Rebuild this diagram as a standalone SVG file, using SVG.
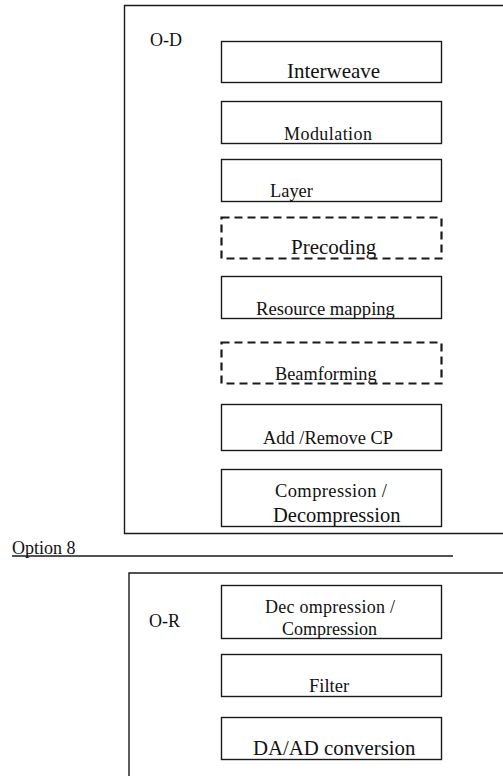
<svg xmlns="http://www.w3.org/2000/svg" width="503" height="776" viewBox="0 0 503 776" font-family="'Liberation Serif', 'Times New Roman', 'DejaVu Serif', serif">
  <style>
    .frame { fill: none; stroke: #1a1a1a; stroke-width: 1.4; }
    .box { fill: #ffffff; stroke: #1a1a1a; stroke-width: 1.4; }
    .dash { fill: #ffffff; stroke: #1a1a1a; stroke-width: 2.2; stroke-dasharray: 8 5; }
    text { font-family: 'Liberation Serif', 'Times New Roman', 'DejaVu Serif', serif; fill: #111111; }
  </style>
  <rect width="503" height="776" fill="#ffffff"/>

  <!-- O-D container (open on the right) -->
  <g id="od-container">
    <path class="frame" d="M503 5.5 H124.5 V533.5 H503"/>
    <text x="150" y="46" font-size="18" font-family="Liberation Serif, serif">O-D</text>
  </g>

  <g id="od-interweave">
    <rect class="box" x="221.5" y="41.5" width="220" height="41"/>
    <text x="287" y="78" font-size="21" textLength="93" font-family="Liberation Serif, serif">Interweave</text>
  </g>
  <g id="od-modulation">
    <rect class="box" x="221.5" y="101.5" width="220" height="42"/>
    <text x="284" y="140" font-size="18" textLength="88" font-family="Liberation Serif, serif">Modulation</text>
  </g>
  <g id="od-layer">
    <rect class="box" x="221.5" y="159.5" width="220" height="42"/>
    <text x="270" y="197" font-size="18.4" font-family="Liberation Serif, serif">Layer</text>
  </g>
  <g id="od-precoding">
    <rect class="dash" x="221.5" y="217.5" width="220" height="41"/>
    <text x="291" y="254" font-size="21" font-family="Liberation Serif, serif">Precoding</text>
  </g>
  <g id="od-resource-mapping">
    <rect class="box" x="221.5" y="276.5" width="220" height="42"/>
    <text x="256" y="315" font-size="18.6" font-family="Liberation Serif, serif">Resource mapping</text>
  </g>
  <g id="od-beamforming">
    <rect class="dash" x="221.5" y="342.5" width="220" height="41"/>
    <text x="275" y="380" font-size="18.3" font-family="Liberation Serif, serif">Beamforming</text>
  </g>
  <g id="od-cp">
    <rect class="box" x="221.5" y="404.5" width="220" height="46"/>
    <text x="263" y="444" font-size="18.4" textLength="130" font-family="Liberation Serif, serif">Add /Remove CP</text>
  </g>
  <g id="od-compression">
    <rect class="box" x="221.5" y="469.5" width="220" height="57"/>
    <text x="275" y="497" font-size="18.5" textLength="112" font-family="Liberation Serif, serif">Compression /</text>
    <text x="273" y="522" font-size="20.5" font-family="Liberation Serif, serif">Decompression</text>
  </g>

  <!-- split line -->
  <g id="option-8">
    <line class="frame" x1="12" y1="556" x2="453" y2="556"/>
    <text x="12" y="554" font-size="18" font-family="Liberation Serif, serif">Option 8</text>
  </g>

  <!-- O-R container (open on the right and bottom) -->
  <g id="or-container">
    <path class="frame" d="M503 573 H129 V776"/>
    <text x="149" y="627" font-size="18" font-family="Liberation Serif, serif">O-R</text>
  </g>

  <g id="or-decompression">
    <rect class="box" x="221.5" y="585.5" width="220" height="53"/>
    <text x="265" y="613" font-size="18" textLength="130" font-family="Liberation Serif, serif">Dec ompression /</text>
    <text x="282" y="635" font-size="18" font-family="Liberation Serif, serif">Compression</text>
  </g>
  <g id="or-filter">
    <rect class="box" x="221.5" y="654.5" width="220" height="42"/>
    <text x="309" y="692" font-size="18.5" font-family="Liberation Serif, serif">Filter</text>
  </g>
  <g id="or-conversion">
    <rect class="box" x="221.5" y="717.5" width="220" height="42"/>
    <text x="253" y="755" font-size="20.8" font-family="Liberation Serif, serif">DA/AD conversion</text>
  </g>
</svg>
